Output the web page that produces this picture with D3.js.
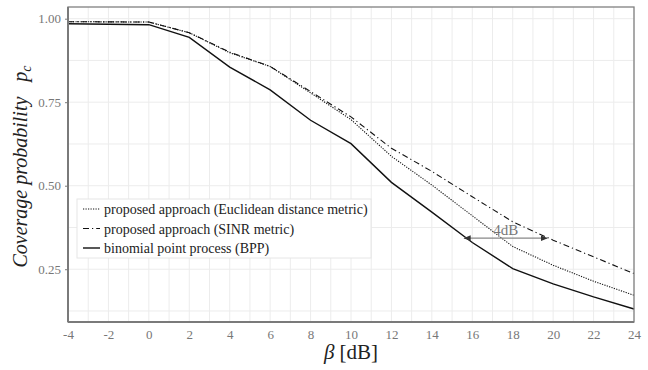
<!DOCTYPE html>
<html>
<head>
<meta charset="utf-8">
<script src="https://cdn.jsdelivr.net/npm/d3@7"></script>
<style>
  body { margin: 0; background: #fff; }
</style>
</head>
<body>
<div id="chart"></div>
<script>
const width = 648, height = 370;
const margin = { top: 7, right: 14, bottom: 48, left: 68 };
const innerWidth = width - margin.left - margin.right;
const innerHeight = height - margin.top - margin.bottom;
const serif = "'Liberation Serif', serif";

// beta in dB
const beta = [-4, 0, 2, 4, 6, 8, 10, 12, 14, 16, 18, 20, 22, 24];
const euclidean = [0.991, 0.990, 0.958, 0.898, 0.857, 0.778, 0.698, 0.588, 0.502, 0.410, 0.318, 0.262, 0.214, 0.172];
const sinr      = [0.991, 0.990, 0.958, 0.900, 0.857, 0.782, 0.706, 0.612, 0.543, 0.467, 0.392, 0.337, 0.287, 0.237];
const bpp       = [0.985, 0.982, 0.944, 0.855, 0.787, 0.696, 0.626, 0.510, 0.421, 0.330, 0.252, 0.206, 0.167, 0.131];

const xTicks = [-4, -2, 0, 2, 4, 6, 8, 10, 12, 14, 16, 18, 20, 22, 24];
const yTicks = [0.25, 0.50, 0.75, 1.00];

const seriesDefs = [
  { label: "proposed approach (Euclidean distance metric)", values: euclidean, dash: "1.2,1.3", w: 1.1 },
  { label: "proposed approach (SINR metric)", values: sinr, dash: "6,3,1.2,3", w: 1.1 },
  { label: "binomial point process (BPP)", values: bpp, dash: null, w: 1.4 }
];

const xScale = d3.scaleLinear().domain([-4, 24]).range([0, innerWidth]);
const yScale = d3.scaleLinear().domain([0.092, 1.035]).range([innerHeight, 0]);

const svg = d3.select("#chart")
  .append("svg")
  .attr("width", width)
  .attr("height", height);

const innerChart = svg.append("g")
  .attr("transform", `translate(${margin.left}, ${margin.top})`);

// Grid: minor then major
const xMinor = d3.range(-3, 24, 2);
const yMinor = [0.125, 0.375, 0.625, 0.875];

innerChart.append("g").selectAll("line")
  .data(xMinor.concat(xTicks))
  .join("line")
  .attr("x1", d => xScale(d)).attr("x2", d => xScale(d))
  .attr("y1", 0).attr("y2", innerHeight)
  .attr("stroke", "#ececec").attr("stroke-width", 1);

innerChart.append("g").selectAll("line")
  .data(yMinor.concat(yTicks))
  .join("line")
  .attr("x1", 0).attr("x2", innerWidth)
  .attr("y1", d => yScale(d)).attr("y2", d => yScale(d))
  .attr("stroke", "#ececec").attr("stroke-width", 1);

// Lines
const line = d3.line()
  .x((d, i) => xScale(beta[i]))
  .y(d => yScale(d));

innerChart.selectAll("path.series")
  .data(seriesDefs)
  .join("path")
  .attr("class", "series")
  .attr("d", d => line(d.values))
  .attr("fill", "none")
  .attr("stroke", "#111")
  .attr("stroke-width", d => d.w)
  .attr("stroke-dasharray", d => d.dash);

// 4dB annotation
const arrowY = 0.343;
const arrowFrom = 15.6, arrowTo = 19.7;
svg.append("defs").append("marker")
  .attr("id", "ah")
  .attr("viewBox", "0 0 10 10")
  .attr("refX", 9).attr("refY", 5)
  .attr("markerWidth", 6).attr("markerHeight", 6)
  .attr("orient", "auto-start-reverse")
  .append("path")
  .attr("d", "M0,1 L10,5 L0,9 Z")
  .attr("fill", "#333");

innerChart.append("line")
  .attr("x1", xScale(arrowFrom)).attr("x2", xScale(arrowTo))
  .attr("y1", yScale(arrowY)).attr("y2", yScale(arrowY))
  .attr("stroke", "#888").attr("stroke-width", 1.2)
  .attr("marker-start", "url(#ah)")
  .attr("marker-end", "url(#ah)");

innerChart.append("text")
  .attr("x", xScale((arrowFrom + arrowTo) / 2))
  .attr("y", yScale(arrowY) - 3)
  .attr("text-anchor", "middle")
  .attr("fill", "#777")
  .style("font-family", serif)
  .style("font-size", "15px")
  .text("4dB");

// Panel border
innerChart.append("rect")
  .attr("width", innerWidth).attr("height", innerHeight)
  .attr("fill", "none")
  .attr("stroke", "#808080").attr("stroke-width", 1.3);

// Axis lines (left, bottom) a bit heavier
innerChart.append("line")
  .attr("x1", 0).attr("x2", 0).attr("y1", 0).attr("y2", innerHeight)
  .attr("stroke", "#7a7a7a").attr("stroke-width", 2);
innerChart.append("line")
  .attr("x1", 0).attr("x2", innerWidth).attr("y1", innerHeight).attr("y2", innerHeight)
  .attr("stroke", "#7a7a7a").attr("stroke-width", 2);

// Axes
const xAxis = d3.axisBottom(xScale)
  .tickValues(xTicks)
  .tickSize(0)
  .tickPadding(8)
  .tickFormat(d => String(d));

const yAxis = d3.axisLeft(yScale)
  .tickValues(yTicks)
  .tickSize(3)
  .tickPadding(4)
  .tickFormat(d3.format(".2f"));

const gx = innerChart.append("g")
  .attr("transform", `translate(0, ${innerHeight})`)
  .call(xAxis);
const gy = innerChart.append("g").call(yAxis);

[gx, gy].forEach(g => {
  g.attr("font-family", null);
  g.select(".domain").remove();
  g.selectAll("text").attr("fill", "#777")
    .style("font-size", "13px")
    .style("font-family", serif);
  g.selectAll("line").attr("stroke", "#7a7a7a");
});

// Axis titles
const xTitle = svg.append("text")
  .attr("x", margin.left + innerWidth / 2)
  .attr("y", 359)
  .attr("text-anchor", "middle")
  .style("font-family", serif)
  .style("font-size", "21px")
  .attr("fill", "#222");
xTitle.append("tspan").style("font-style", "italic").text("β");
xTitle.append("tspan").text(" [dB]");

const yTitle = svg.append("text")
  .attr("transform", `translate(27, ${margin.top + innerHeight / 2 + 2}) rotate(-90)`)
  .attr("text-anchor", "middle")
  .style("font-family", serif)
  .style("font-size", "20px")
  .style("font-style", "italic")
  .attr("fill", "#222");
yTitle.append("tspan").text("Coverage probability\u2002 p");
yTitle.append("tspan").attr("dy", 4).style("font-size", "14px").text("c");

// Legend
const legend = svg.append("g").attr("transform", "translate(77, 199)");
legend.append("rect")
  .attr("width", 294).attr("height", 59)
  .attr("fill", "#fff")
  .attr("stroke", "#e6e6e6");

const rows = legend.selectAll("g.row")
  .data(seriesDefs)
  .join("g")
  .attr("class", "row")
  .attr("transform", (d, i) => `translate(6, ${10 + i * 19.5})`);

rows.append("line")
  .attr("x1", 0).attr("x2", 17)
  .attr("stroke", "#111")
  .attr("stroke-width", d => d.w)
  .attr("stroke-dasharray", d => d.dash);

rows.append("text")
  .attr("x", 21)
  .attr("y", 5)
  .style("font-family", serif)
  .style("font-size", "14px")
  .attr("fill", "#222")
  .text(d => d.label);
</script>
</body>
</html>
